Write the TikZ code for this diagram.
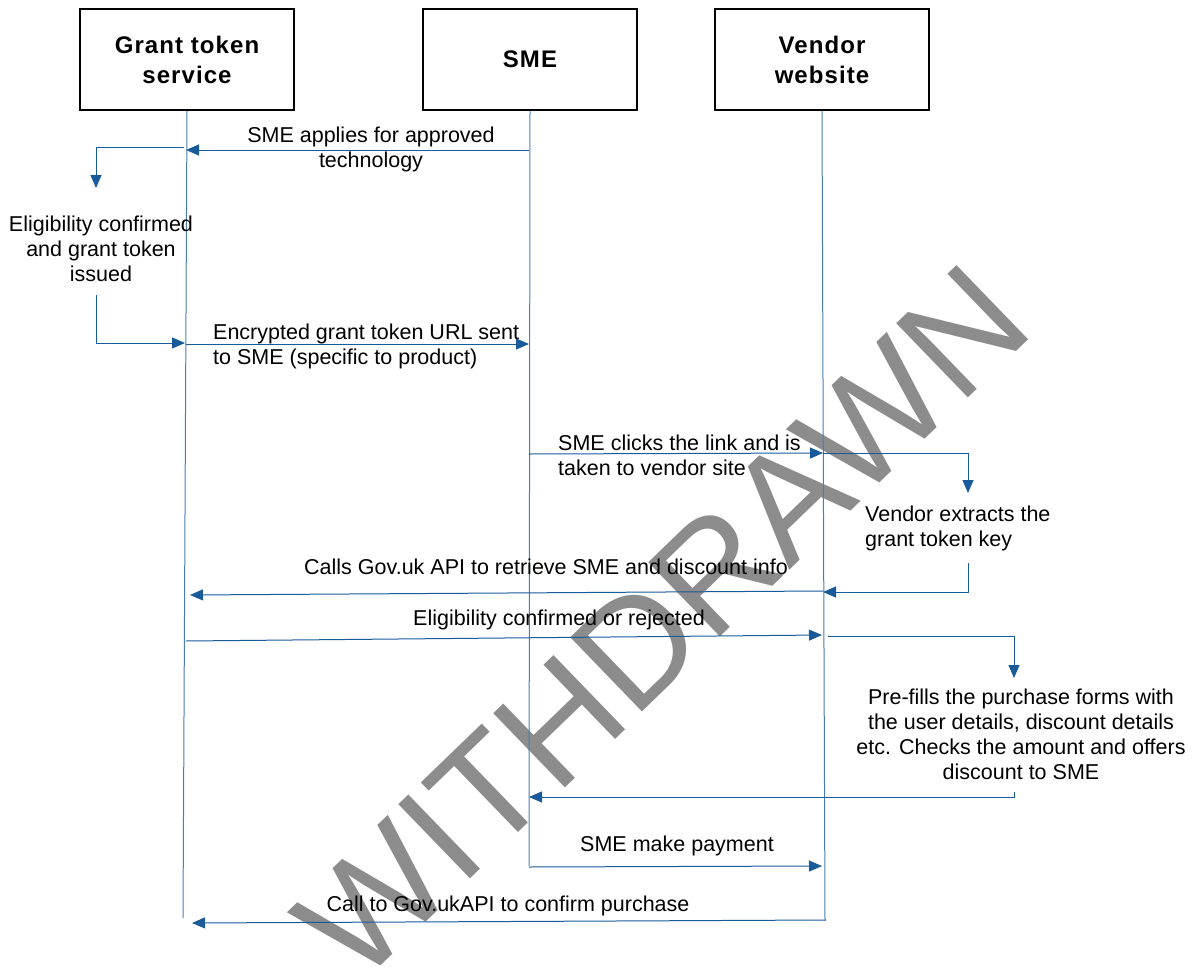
\documentclass[tikz,border=0pt]{standalone}
\usepackage{fontspec}
\setmainfont{Liberation Sans}
\usetikzlibrary{arrows.meta}
\definecolor{msgblue}{RGB}{25,90,155}
\definecolor{lifeblue}{RGB}{70,125,180}
\definecolor{wmgray}{RGB}{140,140,140}
\begin{document}
\begin{tikzpicture}[x=1pt,y=-1pt,
  actor/.style={draw=black,line width=2.2pt,minimum width=214pt,minimum height=101pt,align=center,font=\fontsize{24}{30}\selectfont\bfseries\addfontfeatures{LetterSpace=4.5}},
  life/.style={draw=lifeblue,line width=1pt},
  msg/.style={draw=msgblue,line width=1pt,-{Triangle[length=13pt,width=11pt]}},
  lbl/.style={font=\fontsize{21.5}{25}\selectfont,inner sep=0pt},
  wmark/.style={rotate=44,text=wmgray,font=\fontsize{150}{150}\selectfont,inner sep=0pt}
]
\useasboundingbox (0,0) rectangle (1195,980);
% watermark
\node[wmark] (wm) at (662,622) {WITHDRAWN};
% actors
\node[actor] (gts) at (187,59.5) {Grant token\\service};
\node[actor] (sme) at (530,59.5) {SME};
\node[actor] (ven) at (822,59.5) {Vendor\\website};
% lifelines
\coordinate (gtsEnd) at (183,918);
\coordinate (smeEnd) at (529,866);
\coordinate (venEnd) at (825,920);
\draw[life] (gts.south) -- (gtsEnd);
\draw[life] (sme.south) -- (smeEnd);
\draw[life] (ven.south) -- (venEnd);
% message 1
\coordinate (m1s) at (529,150);
\coordinate (m1e) at (186,150);
\draw[msg] (m1s) -- (m1e);
\node[lbl,align=center] (l1) at (371,149.5) {SME applies for approved\\technology};
% self loop grant
\coordinate (a1) at (184,147);
\coordinate (a2) at (96,188);
\draw[msg] (a1) -| (a2);
\node[lbl,align=center] (t1) at (101,249) {Eligibility confirmed\\and grant token\\issued};
\coordinate (a3) at (96,295);
\coordinate (a4) at (185,343);
\draw[msg] (a3) |- (a4);
% message 2
\coordinate (m2s) at (186,344);
\coordinate (m2e) at (529,344);
\draw[msg] (m2s) -- (m2e);
\node[lbl,align=left,anchor=west] (l2) at (213,346.5) {Encrypted grant token URL sent\\to SME (specific to product)};
% message 3
\coordinate (m3s) at (529,454);
\coordinate (m3e) at (823,453);
\draw[msg] (m3s) -- (m3e);
\node[lbl,align=left,anchor=west] (l3) at (558,455.5) {SME clicks the link and is\\taken to vendor site};
% vendor loop 1
\coordinate (b1) at (823,453);
\coordinate (b2) at (968,493);
\draw[msg] (b1) -| (b2);
\node[lbl,align=left,anchor=west] (t2) at (865,528) {Vendor extracts the\\grant token key};
\coordinate (b3) at (968,563);
\coordinate (b4) at (823,592);
\draw[msg] (b3) |- (b4);
% message 4
\coordinate (m4s) at (823,591);
\coordinate (m4e) at (190,595);
\draw[msg] (m4s) -- (m4e);
\node[lbl] (l4) at (546,567) {Calls Gov.uk API to retrieve SME and discount info};
% message 5
\coordinate (m5s) at (186,641);
\coordinate (m5e) at (822,635);
\draw[msg] (m5s) -- (m5e);
\node[lbl] (l5) at (559,620) {Eligibility confirmed or rejected};
% vendor loop 2
\coordinate (c1) at (828,636);
\coordinate (c2) at (1014,678);
\draw[msg] (c1) -| (c2);
\node[lbl,align=center] (t3) at (1021,734) {Pre-fills the purchase forms with\\the user details, discount details\\etc. Checks the amount and offers\\discount to SME};
\coordinate (c3) at (1014,792);
\coordinate (c4) at (529,797);
\draw[msg] (c3) |- (c4);
% message 6
\coordinate (m6s) at (529,867);
\coordinate (m6e) at (822,866);
\draw[msg] (m6s) -- (m6e);
\node[lbl] (l6) at (677,846) {SME make payment};
% message 7
\coordinate (m7s) at (826,920);
\coordinate (m7e) at (192,923);
\draw[msg] (m7s) -- (m7e);
\node[lbl] (l7) at (508,906) {Call to Gov.ukAPI to confirm purchase};
\end{tikzpicture}
\end{document}
